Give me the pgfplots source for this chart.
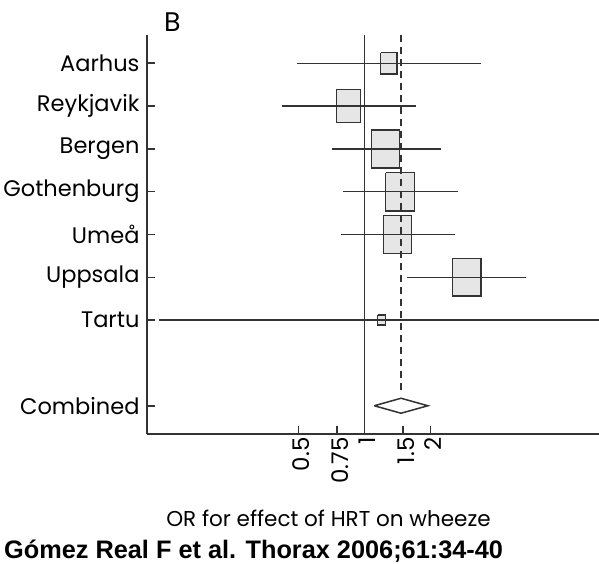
\documentclass[border=0pt]{standalone}
\usepackage{fontspec}
\setmainfont{Poppins}
\newfontfamily\capfont{Liberation Sans}
\usepackage{pgfplots}
\pgfplotsset{compat=1.18}
\definecolor{ln}{HTML}{333333}
\definecolor{boxfill}{HTML}{E6E6E6}
\begin{document}
\begin{tikzpicture}
\path[use as bounding box] (0,0) rectangle (599bp,564bp);
\begin{axis}[
  at={(147bp,130bp)}, anchor=south west,
  scale only axis, width=452bp, height=399bp,
  xmode=log, xmin=0.102, xmax=11.76,
  ymin=0.34, ymax=9.66, y dir=reverse,
  axis x line*=bottom, axis y line*=left,
  axis line style={ln, line width=1.6bp, -},
  tick style={ln, line width=1.6bp},
  tick align=inside, major tick length=8bp,
  xtick={0.5,0.75,1,1.5,2},
  xticklabels={0.5,0.75,1,1.5,2},
  minor xtick={}, 
  xticklabel style={rotate=90, anchor=east, font=\fontsize{23}{26}\selectfont, yshift=-3bp},
  ytick={1,2,3,4,5,6,7,9},
  yticklabels={Aarhus,Reykjavik,Bergen,Gothenburg,Umeå,Uppsala,Tartu,Combined},
  yticklabel style={font=\fontsize{22.6}{26}\selectfont, xshift=-4bp},
  clip=true,
]
% boxes (rectangles: left, right, y, half-height)
\addplot[draw=ln, fill=boxfill, line width=1.5bp] coordinates {(1.188,0.75)(1.41,0.75)(1.41,1.25)(1.188,1.25)(1.188,0.75)};
\addplot[draw=ln, fill=boxfill, line width=1.5bp] coordinates {(0.745,1.615)(0.963,1.615)(0.963,2.385)(0.745,2.385)(0.745,1.615)};
\addplot[draw=ln, fill=boxfill, line width=1.5bp] coordinates {(1.076,2.557)(1.444,2.557)(1.444,3.443)(1.076,3.443)(1.076,2.557)};
\addplot[draw=ln, fill=boxfill, line width=1.5bp] coordinates {(1.252,3.552)(1.691,3.552)(1.691,4.448)(1.252,4.448)(1.252,3.552)};
\addplot[draw=ln, fill=boxfill, line width=1.5bp] coordinates {(1.226,4.553)(1.645,4.553)(1.645,5.447)(1.226,5.447)(1.226,4.553)};
\addplot[draw=ln, fill=boxfill, line width=1.5bp] coordinates {(2.52,5.56)(3.40,5.56)(3.40,6.44)(2.52,6.44)(2.52,5.56)};
\addplot[draw=ln, fill=boxfill, line width=1.5bp] coordinates {(1.151,6.883)(1.247,6.883)(1.247,7.117)(1.151,7.117)(1.151,6.883)};
% confidence intervals
\addplot[ln, line width=1.5bp] coordinates {(0.495,1)(3.41,1)};
\addplot[ln, line width=1.5bp] coordinates {(0.423,2)(1.716,2)};
\addplot[ln, line width=1.5bp] coordinates {(0.712,3)(2.245,3)};
\addplot[ln, line width=1.5bp] coordinates {(0.80,4)(2.68,4)};
\addplot[ln, line width=1.5bp] coordinates {(0.785,5)(2.585,5)};
\addplot[ln, line width=1.5bp] coordinates {(1.57,6)(5.47,6)};
\addplot[ln, line width=1.5bp] coordinates {(0.116,7)(20,7)};
% reference lines
\addplot[ln, line width=1.5bp] coordinates {(1,0.34)(1,9.66)};
\addplot[ln, line width=1.5bp, dash pattern=on 7bp off 5bp] coordinates {(1.47,0.34)(1.47,8.70)};
% combined diamond
\addplot[ln, fill=white, line width=1.5bp] coordinates {(1.11,9)(1.47,8.825)(1.95,9)(1.47,9.175)(1.11,9)};
\end{axis}
\node[anchor=west, inner sep=0pt, font=\fontsize{27}{30}\selectfont] at (164bp,542bp) {B};
\node[anchor=center, inner sep=0pt, font=\fontsize{21.6}{24}\selectfont] at (328.5bp,46bp) {OR for effect of HRT on wheeze};
\node[anchor=base west, inner sep=0pt, font=\capfont\bfseries\fontsize{25.4}{28}\selectfont] at (4bp,6bp) {Gómez Real F et al. Thorax 2006;61:34-40};
\end{tikzpicture}
\end{document}
